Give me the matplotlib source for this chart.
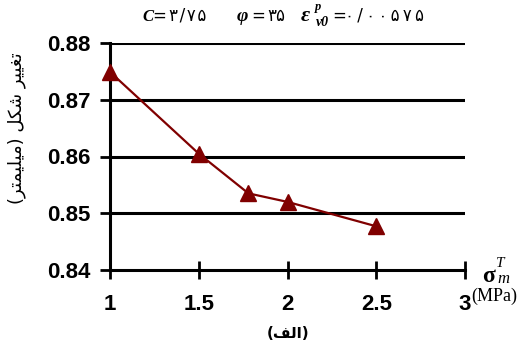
import matplotlib
matplotlib.use('Agg')
import matplotlib.pyplot as plt

# data
sigma_m = [1.0, 1.5, 1.78, 2.0, 2.5]
deform = [0.8749, 0.8605, 0.8535, 0.8520, 0.8477]
xticks = [1, 1.5, 2, 2.5, 3]
yticks = [0.84, 0.85, 0.86, 0.87, 0.88]

# persian text, written in visual order with presentation forms (no shaping in mpl)
ylab = "(\uFEAE\uFE98\uFEE4\uFEF4\uFEE0\uFEF4\uFEE3) \uFEDE\uFB91\uFEB7 \uFEAE\uFEF4\uFEF4\uFED0\uFE97"
sub_lab = "(\uFED2\uFEDF\uFE8D)"
c_val = "\u06F3/\u06F7\u06F5"
phi_val = "\u06F3\u06F5"
eps_val = "\u06F0/\u06F0\u06F0\u06F5\u06F7\u06F5"

fig = plt.figure(figsize=(5.26, 3.54), dpi=100)
ax = fig.add_axes([110/526, 84/354, 355/526, 227/354])

ax.plot(sigma_m, deform, color='#800000', lw=1.6, marker='^', ms=11,
        markeredgecolor='#800000', markerfacecolor='#800000', clip_on=False, zorder=5)

ax.set_xlim(1, 3)
ax.set_ylim(0.84, 0.88)
ax.set_xticks(xticks)
ax.set_xticklabels(['1', '1.5', '2', '2.5', '3'])
ax.set_yticks(yticks)
ax.set_yticklabels(['%.2f' % v for v in yticks])
for y in yticks[1:]:
    ax.axhline(y, color='black', lw=2.2, zorder=1)

for s in ['top', 'right']:
    ax.spines[s].set_visible(False)
for s in ['left', 'bottom']:
    ax.spines[s].set_linewidth(2.2)

ax.tick_params(axis='x', direction='inout', length=13, width=2, pad=11)
ax.tick_params(axis='y', direction='out', length=7, width=2, pad=7)
for lab in ax.get_xticklabels() + ax.get_yticklabels():
    lab.set_fontfamily('Liberation Sans')
    lab.set_fontweight('bold')
    lab.set_fontsize(16)

# y label placed by hand (sits above the axis centre in the original)
fig.text(17/526, 1 - 128/354, ylab, fontsize=13, family='DejaVu Sans',
         rotation=90, ha='center', va='center')

# x label on the right
fig.text(482/526, 1 - 282/354, '\u03C3', fontsize=17, family='Liberation Serif',
         weight='bold', ha='left', va='baseline')
fig.text(496/526, 1 - 267/354, 'T', fontsize=11, family='Liberation Serif', style='italic',
         ha='left', va='baseline')
fig.text(497/526, 1 - 283/354, 'm', fontsize=12, family='Liberation Serif', style='italic',
         ha='left', va='baseline')
fig.text(471/526, 1 - 301/354, '(MPa)', fontsize=13, family='Liberation Serif',
         ha='left', va='baseline')

fig.text(288/526, 1 - 333/354, sub_lab, fontsize=11, family='DejaVu Sans', weight='bold',
         ha='center', va='center')

# title line, put together piece by piece
ty = 1 - 21/354
bi = dict(family='Liberation Serif', style='italic', weight='bold', va='baseline')
rg = dict(family='DejaVu Sans', va='baseline', fontsize=12)
sp = '\u200A'
fig.text(142/526, ty, 'C', fontsize=12, **bi)
fig.text(152/526, ty, '=', **rg)
fig.text(169/526, ty, sp.join(c_val), **rg)
fig.text(237/526, ty, '\u03C6', fontsize=14, **bi)
fig.text(251/526, ty, '=', **rg)
fig.text(267/526, ty, phi_val, **rg)
fig.text(301/526, ty, '\u03B5', fontsize=16, **bi)
fig.text(315/526, 1 - 10/354, 'p', fontsize=9, **bi)
fig.text(316/526, 1 - 26/354, 'v0', fontsize=10, **bi)
fig.text(332/526, ty, '=', **rg)
fig.text(345/526, ty, (sp + sp).join(eps_val), **rg)

fig.savefig('out.png', dpi=100)
